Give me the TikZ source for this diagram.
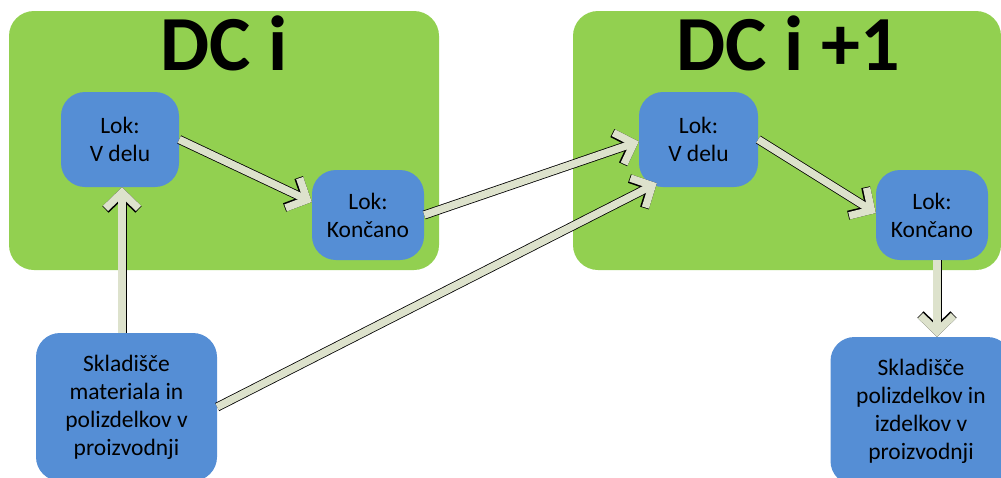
\documentclass[tikz,border=0pt]{standalone}
\usepackage{fontspec}
\setmainfont{Carlito}
\usetikzlibrary{arrows.meta}
\definecolor{dcgreen}{HTML}{92D050}
\definecolor{locblue}{HTML}{558ED5}
\definecolor{arrfill}{HTML}{DDE2CC}
\tikzset{
  greenbox/.style={fill=dcgreen, draw=none, rounded corners=25pt, inner sep=0pt},
  bluebox/.style={fill=locblue, draw=none, rounded corners=24pt, inner sep=0pt, align=center,
     font=\fontsize{23.5}{28}\selectfont},
  titletext/.style={font=\fontsize{78}{86}\selectfont\bfseries, inner sep=0pt, anchor=base},
  blockarrow/.style={line width=7.4pt, draw=arrfill,
     -{Straight Barb[length=16pt, width=33pt, line join=miter, line cap=butt]},
     preaction={draw=black, line width=9pt,
       -{Straight Barb[length=16pt, width=33pt, line join=miter, line cap=butt]}}}
}
\begin{document}
\begin{tikzpicture}[x=1pt, y=-1pt]
\useasboundingbox (0,0) rectangle (1001,477);
% containers
\node[greenbox, minimum width=430pt, minimum height=259pt] (gl) at (224,140.5) {};
\node[greenbox, minimum width=428pt, minimum height=259pt] (gr) at (787,140.5) {};
\node[titletext] (tl) at (224,70) {DC i};
\node[titletext] (tr) at (788,70) {DC i +1};
% location boxes
\node[bluebox, minimum width=118pt, minimum height=95pt] (vl) at (120,139.5) {Lok:\\V delu};
\node[bluebox, minimum width=112pt, minimum height=90pt] (kl) at (368,215) {Lok:\\Končano};
\node[bluebox, minimum width=119pt, minimum height=95pt] (vr) at (698.5,139.5) {Lok:\\V delu};
\node[bluebox, minimum width=112pt, minimum height=90pt] (kr) at (932,215) {Lok:\\Končano};
\node[bluebox, minimum width=181pt, minimum height=148pt] (sl) at (126.5,407) {Skladišče\\materiala in\\polizdelkov v\\proizvodnji};
\node[bluebox, minimum width=181pt, minimum height=148pt] (sr) at (921,411) {Skladišče\\polizdelkov in\\izdelkov v\\proizvodnji};
% connectors
\draw[blockarrow] (vl.east) -- ([yshift=13pt]kl.west);
\draw[blockarrow] ([xshift=-4.5pt]sl.north) -- ([xshift=2pt]vl.south);
\draw[blockarrow] (kl.east) -- ([yshift=-2pt]vr.west);
\draw[blockarrow] (sl.east) -- ([xshift=18pt,yshift=4pt]vr.south west);
\draw[blockarrow] (vr.east) -- ([yshift=2pt]kr.west);
\draw[blockarrow] ([xshift=5pt]kr.south) -- ([xshift=16pt]sr.north);
\end{tikzpicture}
\end{document}
